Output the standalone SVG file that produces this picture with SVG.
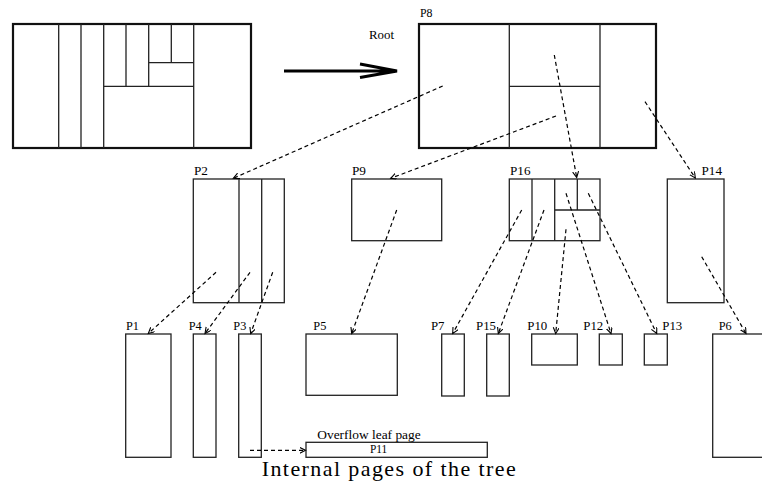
<svg xmlns="http://www.w3.org/2000/svg" width="762" height="485" viewBox="0 0 762 485">
  <defs>
    <marker id="tip" markerUnits="userSpaceOnUse" markerWidth="8" markerHeight="8" refX="6" refY="3" orient="auto">
      <path d="M0,0 L6,3 L0,6" fill="none" stroke="#000" stroke-width="1.1"/>
    </marker>
    <style>
      .box { fill: #fff; stroke: #222; stroke-width: 1.3; }
      .thick { fill: #fff; stroke: #111; stroke-width: 2.2; }
      .div { stroke: #222; stroke-width: 1.3; fill: none; }
      .ptr { stroke: #000; stroke-width: 1.2; stroke-dasharray: 4 3; fill: none; marker-end: url(#tip); }
      .lbl { font-family: "Liberation Serif", "Times New Roman", serif; font-size: 12px; fill: #000; }
      .cap { font-family: "Liberation Serif", "Times New Roman", serif; font-size: 22px; fill: #000; }
    </style>
  </defs>

  <!-- data space partition -->
  <g id="space">
    <rect class="thick" x="13" y="24" width="238" height="124"/>
    <path class="div" d="M58.7,24 V148 M81,24 V148 M103.7,24 V148 M193.7,24 V148
                         M126,24 V86.3 M148.7,24 V86.3 M171.3,24 V62.7
                         M103.7,86.3 H193.7 M148.7,62.7 H193.7"/>
  </g>

  <!-- mapping arrow -->
  <g id="map-arrow">
    <path d="M284,71 H397 M360,64 L397,71 L360,77.5" fill="none" stroke="#000" stroke-width="2.8" stroke-linejoin="miter"/>
  </g>

  <!-- root page -->
  <g id="P8">
    <text class="lbl" x="369" y="39" font-size="11" textLength="25" lengthAdjust="spacingAndGlyphs">Root</text>
    <text class="lbl" x="420" y="17" textLength="12.5" lengthAdjust="spacingAndGlyphs">P8</text>
    <rect class="thick" x="419" y="24" width="237" height="124"/>
    <path class="div" d="M509.3,24 V148 M600,24 V148 M509.3,86.3 H600"/>
  </g>

  <!-- internal pages -->
  <g id="P2">
    <text class="lbl" x="194" y="175" textLength="14" lengthAdjust="spacingAndGlyphs">P2</text>
    <rect class="box" x="193.3" y="179" width="91" height="123.7"/>
    <path class="div" d="M239,179 V302.7 M261.7,179 V302.7"/>
  </g>
  <g id="P9">
    <text class="lbl" x="352" y="175" textLength="14" lengthAdjust="spacingAndGlyphs">P9</text>
    <rect class="box" x="351.7" y="179" width="90" height="61.7"/>
  </g>
  <g id="P16">
    <text class="lbl" x="510" y="175" textLength="20.5" lengthAdjust="spacingAndGlyphs">P16</text>
    <rect class="box" x="509.3" y="179" width="90.7" height="61.7"/>
    <path class="div" d="M532,179 V240.7 M554.7,179 V240.7 M577.3,179 V210 M554.7,210 H600"/>
  </g>
  <g id="P14">
    <text class="lbl" x="701.5" y="175" textLength="20.5" lengthAdjust="spacingAndGlyphs">P14</text>
    <rect class="box" x="667.3" y="179" width="56.7" height="123.7"/>
  </g>

  <!-- leaf pages -->
  <g id="P1">
    <text class="lbl" x="126" y="330" textLength="13" lengthAdjust="spacingAndGlyphs">P1</text>
    <rect class="box" x="125.7" y="334" width="45.3" height="123.3"/>
  </g>
  <g id="P4">
    <text class="lbl" x="188.7" y="330" textLength="13" lengthAdjust="spacingAndGlyphs">P4</text>
    <rect class="box" x="193.3" y="334" width="22.7" height="123.3"/>
  </g>
  <g id="P3">
    <text class="lbl" x="233.3" y="330" textLength="13" lengthAdjust="spacingAndGlyphs">P3</text>
    <rect class="box" x="238.7" y="334" width="22.6" height="123.3"/>
  </g>
  <g id="P5">
    <text class="lbl" x="313.3" y="330" textLength="13" lengthAdjust="spacingAndGlyphs">P5</text>
    <rect class="box" x="306" y="334" width="91.3" height="61.3"/>
  </g>
  <g id="P7">
    <text class="lbl" x="431" y="330" textLength="13.5" lengthAdjust="spacingAndGlyphs">P7</text>
    <rect class="box" x="441.7" y="334" width="22.6" height="62"/>
  </g>
  <g id="P15">
    <text class="lbl" x="476" y="330" textLength="20" lengthAdjust="spacingAndGlyphs">P15</text>
    <rect class="box" x="486.7" y="334" width="22.6" height="62"/>
  </g>
  <g id="P10">
    <text class="lbl" x="527.3" y="330" textLength="20" lengthAdjust="spacingAndGlyphs">P10</text>
    <rect class="box" x="531.7" y="334" width="45.6" height="31"/>
  </g>
  <g id="P12">
    <text class="lbl" x="583.3" y="330" textLength="20" lengthAdjust="spacingAndGlyphs">P12</text>
    <rect class="box" x="599.3" y="334" width="23" height="31"/>
  </g>
  <g id="P13">
    <text class="lbl" x="662.3" y="330" textLength="20" lengthAdjust="spacingAndGlyphs">P13</text>
    <rect class="box" x="644.3" y="334" width="23" height="31"/>
  </g>
  <g id="P6">
    <text class="lbl" x="718.7" y="330" textLength="13" lengthAdjust="spacingAndGlyphs">P6</text>
    <rect class="box" x="712.7" y="334" width="60" height="123.3"/>
  </g>
  <g id="P11">
    <text class="lbl" x="317.3" y="439.3" font-size="11" textLength="103.4" lengthAdjust="spacingAndGlyphs">Overflow leaf page</text>
    <rect class="box" x="306" y="442.3" width="181.3" height="15"/>
    <text class="lbl" x="370" y="453.3" font-size="10" textLength="17.3" lengthAdjust="spacingAndGlyphs">P11</text>
  </g>

  <!-- child pointers -->
  <g id="connectors">
    <path class="ptr" d="M442.7,86 L233.3,178.3"/>
    <path class="ptr" d="M556,116 L390.7,178.3"/>
    <path class="ptr" d="M554.3,55 L576.7,177.5"/>
    <path class="ptr" d="M645,101.7 L695.3,178"/>
    <path class="ptr" d="M216,272.3 L148.3,333.5"/>
    <path class="ptr" d="M250,272.3 L205,333.5"/>
    <path class="ptr" d="M272.7,272.3 L250.7,333.5"/>
    <path class="ptr" d="M396.7,210 L351.7,333.5"/>
    <path class="ptr" d="M521.7,210 L452.7,333.5"/>
    <path class="ptr" d="M544,210 L498.3,333.5"/>
    <path class="ptr" d="M566,229.3 L555.7,333.5"/>
    <path class="ptr" d="M566,193.3 L611,333.5"/>
    <path class="ptr" d="M588.3,193.3 L656.7,333.5"/>
    <path class="ptr" d="M701.7,256.7 L746,333.5"/>
    <path class="ptr" d="M250,450.3 L305.5,450.3"/>
  </g>

  <text class="cap" x="261.7" y="476" textLength="254" lengthAdjust="spacing">Internal pages of the tree</text>
</svg>
